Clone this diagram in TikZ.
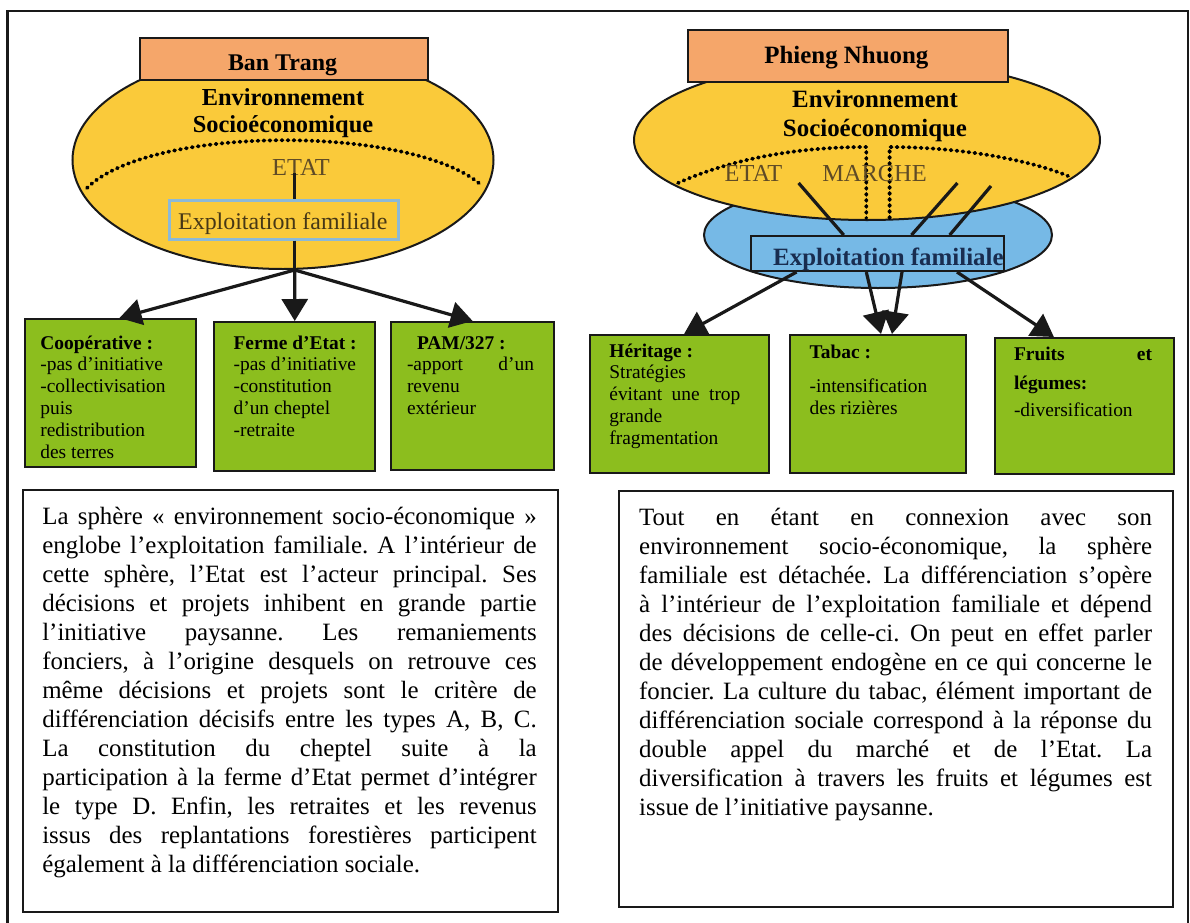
\documentclass[tikz,border=0pt]{standalone}
\usepackage{fontspec}
\setmainfont{Liberation Serif}
\usetikzlibrary{arrows.meta}
\definecolor{orangeC}{RGB}{245,166,106}
\definecolor{yellowC}{RGB}{250,202,58}
\definecolor{blueC}{RGB}{118,185,230}
\definecolor{greenC}{RGB}{140,190,30}
\definecolor{efBorder}{RGB}{140,185,215}
\definecolor{brownD}{RGB}{70,55,22}
\definecolor{brownE}{RGB}{95,75,38}
\definecolor{navyT}{RGB}{25,45,80}
\definecolor{lineC}{RGB}{25,25,25}
\frenchspacing
\newcommand\vt[2]{\vtop{\hsize=#1\relax\parindent=0pt\parskip=0pt\relax #2}}
\newcommand\gfs{\fontsize{19.5}{22}\selectfont}
\newcommand\bfs{\fontsize{25}{29.15}\selectfont\tolerance=10000\hyphenpenalty=10000\exhyphenpenalty=10000\relax}
\tikzset{
  frame/.style={line width=2.2bp, draw=lineC},
  orbox/.style={draw=lineC, line width=2bp, fill=orangeC, inner sep=0, anchor=north west},
  gbox/.style={draw=lineC, line width=2bp, fill=greenC, inner sep=0, anchor=north west},
  tbox/.style={draw=lineC, line width=2bp, inner sep=0, anchor=north west},
  arr/.style={draw=lineC, line width=3.2bp, -{Triangle[length=22bp,width=26bp]}},
  conn/.style={draw=lineC, line width=3.2bp},
  dotl/.style={draw=black, line width=3.8bp, line cap=round, dash pattern=on 1bp off 5bp},
  lbl/.style={inner sep=0, anchor=base},
  txt/.style={inner sep=0, anchor=base west},
  head/.style={lbl, font=\bfseries\fontsize{24.5}{28}\selectfont},
}
\begin{document}
\begin{tikzpicture}[x=1bp,y=-1bp]
\useasboundingbox (0,0) rectangle (1190,923);
\fill[white] (0,0) rectangle (1190,923);
% outer frame
\draw[frame] (7.5,923) -- (7.5,11) -- (1188,11) -- (1188,923);

% ================= LEFT: Ban Trang =================
\draw[line width=2bp, draw=lineC, fill=yellowC] (283,160) ellipse [x radius=210.5, y radius=109];
\node[orbox, minimum width=288.2bp, minimum height=42bp] (banT) at (138.5,37) {};
\node[head, font=\bfseries\fontsize{24}{28}\selectfont] (banTt) at (282.6,70) {Ban Trang};
\node[head] (envL1) at (283,105) {Environnement};
\node[head] (envL2) at (283,132.3) {Socioéconomique};
\draw[dotl] (87,188) .. controls (150,125) and (410,125) .. (480,184);
\node[lbl, text=brownE, font=\fontsize{24.5}{28}\selectfont] (etatL) at (301,175) {ETAT};
\coordinate (fanL) at (294.7,270);
\node[draw=efBorder, line width=2.5bp, fill=yellowC, minimum width=228.8bp, minimum height=39bp, inner sep=0, anchor=north west] (efL) at (168.4,199) {};
\node[lbl, text=brownD, font=\fontsize{24}{28}\selectfont] (efLt) at (282.8,229) {Exploitation familiale};
\draw[conn] (fanL |- 0,173) -- (fanL |- efL.north);
\draw[conn] (fanL |- efL.south) -- (fanL);

\node[gbox, minimum width=171.5bp, minimum height=148bp] (coop) at (23.7,318) {};
\node[gbox, minimum width=161.1bp, minimum height=149bp] (ferme) at (213.2,321) {};
\node[gbox, minimum width=162.7bp, minimum height=148bp] (pam) at (390.3,321) {};
\draw[arr] (fanL) -- ([xshift=9bp]coop.north);
\draw[arr] (fanL) -- (ferme.north);
\draw[arr] (fanL) -- (pam.north);

\node[txt] (coopT) at (40.2,349) {\vt{140bp}{\gfs\textbf{Coopérative :}\par
  -pas d’initiative\par -collectivisation\par puis\par redistribution\par des terres\par}};
\node[txt] (fermeT) at (233.4,349) {\vt{130bp}{\gfs\textbf{Ferme d’Etat :}\par
  -pas d’initiative\par -constitution\par d’un cheptel\par -retraite\par}};
\node[txt] (pamT) at (406.8,349) {\vt{127bp}{\gfs\hspace*{10bp}\textbf{PAM/327 :}\par
  \leavevmode\hbox to\hsize{-apport\hfill d’un}\par revenu\par extérieur\par}};

% ================= RIGHT: Phieng Nhuong =================
\draw[line width=2bp, draw=lineC, fill=blueC] (878,235) ellipse [x radius=174, y radius=53];
\draw[line width=2bp, draw=lineC, fill=yellowC] (867,140) ellipse [x radius=233, y radius=80];
\node[orbox, minimum width=320.3bp, minimum height=52bp] (phN) at (686.8,29) {};
\node[head, font=\bfseries\fontsize{25}{29}\selectfont] (phNt) at (846.4,63) {Phieng Nhuong};
\node[head, font=\bfseries\fontsize{25}{29}\selectfont] (envR1) at (875,107.3) {Environnement};
\node[head, font=\bfseries\fontsize{25}{29}\selectfont] (envR2) at (875,136.7) {Socioéconomique};
\draw[dotl] (678,183) .. controls (740,155) and (810,147) .. (866.3,147) -- (866.3,218);
\draw[dotl] (889.6,218) -- (889.6,147) .. controls (960,147) and (1030,160) .. (1068,176);
\node[lbl, text=brownE, font=\fontsize{24.5}{28}\selectfont] (etatR) at (753.5,181.7) {ETAT};
\node[lbl, text=brownE, font=\fontsize{24.5}{28}\selectfont] (marche) at (874.5,181.7) {MARCHE};

\node[draw=lineC, line width=2bp, minimum width=253bp, minimum height=35bp, inner sep=0, anchor=north west] (efR) at (750,235) {};
\node[txt, text=navyT, font=\bfseries\fontsize{25}{29}\selectfont] (efRt) at (773,265) {Exploitation familiale};

\coordinate (s1) at (798.6,183);
\coordinate (s2) at (957.4,183);
\coordinate (s3) at (991,186);
\draw[conn] (s1) -- ([xshift=93.7bp]efR.north west);
\draw[conn] (s2) -- ([xshift=161.5bp]efR.north west);
\draw[conn] (s3) -- ([xshift=199.7bp]efR.north west);

\node[gbox, minimum width=178.9bp, minimum height=138bp] (her) at (588.6,334) {};
\node[gbox, minimum width=176.2bp, minimum height=138bp] (tabac) at (788.9,334) {};
\node[gbox, minimum width=179.8bp, minimum height=136bp] (fruits) at (993.5,337) {};
\draw[arr] ([xshift=46.6bp]efR.south west) -- ([xshift=5bp]her.north);
\draw[arr] ([xshift=116.3bp]efR.south west) -- ([xshift=3bp]tabac.north);
\draw[arr] ([xshift=152bp]efR.south west) -- ([xshift=14bp]tabac.north);
\draw[arr] ([xshift=207bp]efR.south west) -- ([xshift=-30.5bp]fruits.north);

\node[txt] (herT) at (609.2,357) {\vt{131bp}{\gfs\textbf{Héritage :}\par
  Stratégies\par \leavevmode\hbox to\hsize{évitant\hfill une\hfill trop}\par grande\par fragmentation\par}};
\node[txt] (tabacT) at (809.5,358) {\vt{140bp}{\gfs\textbf{Tabac :}\par\vskip 13bp
  -intensification\par des rizières\par}};
\node[txt] (fruitsT) at (1013.8,360) {\vt{138bp}{\gfs\leavevmode\hbox to\hsize{\textbf{Fruits}\hfill\textbf{et}}\par\vskip 8bp
  \textbf{légumes:}\par\vskip 5bp -diversification\par}};

% ================= text boxes =================
\node[tbox, minimum width=534.3bp, minimum height=422bp] (boxL) at (22.2,489) {};
\node[tbox, minimum width=554bp, minimum height=416bp] (boxR) at (618,490) {};
\node[txt] (textL) at (42.1,524) {\vt{494.4bp}{\bfs
La sphère « environnement socio-économique »\linebreak
englobe l’exploitation familiale. A l’intérieur de\linebreak
cette sphère, l’Etat est l’acteur principal. Ses\linebreak
décisions et projets inhibent en grande partie\linebreak
l’initiative paysanne. Les remaniements\linebreak
fonciers, à l’origine desquels on retrouve ces\linebreak
même décisions et projets sont le critère de\linebreak
différenciation décisifs entre les types A, B, C.\linebreak
La constitution du cheptel suite à la\linebreak
participation à la ferme d’Etat permet d’intégrer\linebreak
le type D. Enfin, les retraites et les revenus\linebreak
issus des replantations forestières participent\linebreak
également à la différenciation sociale.\par}};
\node[txt] (textR) at (639,525) {\vt{512.8bp}{\bfs
Tout en étant en connexion avec son\linebreak
environnement socio-économique, la sphère\linebreak
familiale est détachée. La différenciation s’opère\linebreak
à l’intérieur de l’exploitation familiale et dépend\linebreak
des décisions de celle-ci. On peut en effet parler\linebreak
de développement endogène en ce qui concerne le\linebreak
foncier. La culture du tabac, élément important de\linebreak
différenciation sociale correspond à la réponse du\linebreak
double appel du marché et de l’Etat. La\linebreak
diversification à travers les fruits et légumes est\linebreak
issue de l’initiative paysanne.\par}};
\end{tikzpicture}
\end{document}
